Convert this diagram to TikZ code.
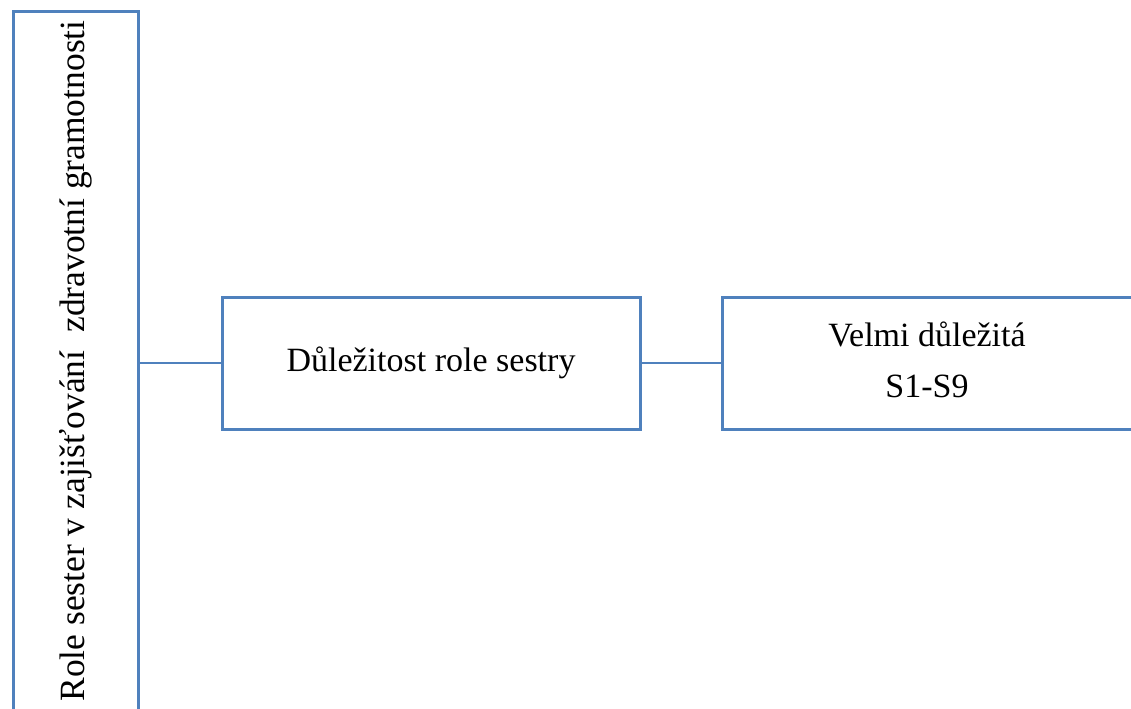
\documentclass[tikz,border=0pt]{standalone}
\usepackage{fontspec}
\setmainfont{Liberation Serif}
\definecolor{boxblue}{HTML}{4F81BD}
\begin{document}
\begin{tikzpicture}[x=0.75pt,y=-0.75pt,
  box/.style={draw=boxblue, line width=2.25pt, inner sep=0pt, fill=white},
  link/.style={draw=boxblue, line width=1.5pt},
  lbl/.style={font=\fontsize{25.5}{38.25}\selectfont, align=center, inner sep=0pt},
  sidelbl/.style={font=\fontsize{26.6}{32}\selectfont, align=center, inner sep=0pt}]
\useasboundingbox (0,0) rectangle (1131,708);
\clip (0,0) rectangle (1131,708);
% tall vertical box on the left, running past the bottom edge
\node[box, sidelbl, rotate=90, minimum width=525pt, minimum height=93.75pt]
  (role) at (75.5,361) {Role sester v zajišťování\ \ zdravotní gramotnosti};
% middle box
\node[box, lbl, minimum width=313.5pt, minimum height=99pt]
  (dul) at (431,363) {Důležitost role sestry};
% right box, running past the right edge
\node[box, minimum width=318pt, minimum height=99pt] (velmi) at (934,363) {};
\node[lbl] (velmitxt) at (927,360) {Velmi důležitá\\S1-S9};
% connectors
\draw[link] (role.south |- dul.west) -- (dul.west);
\draw[link] (dul.east) -- (velmi.west);
\end{tikzpicture}
\end{document}
